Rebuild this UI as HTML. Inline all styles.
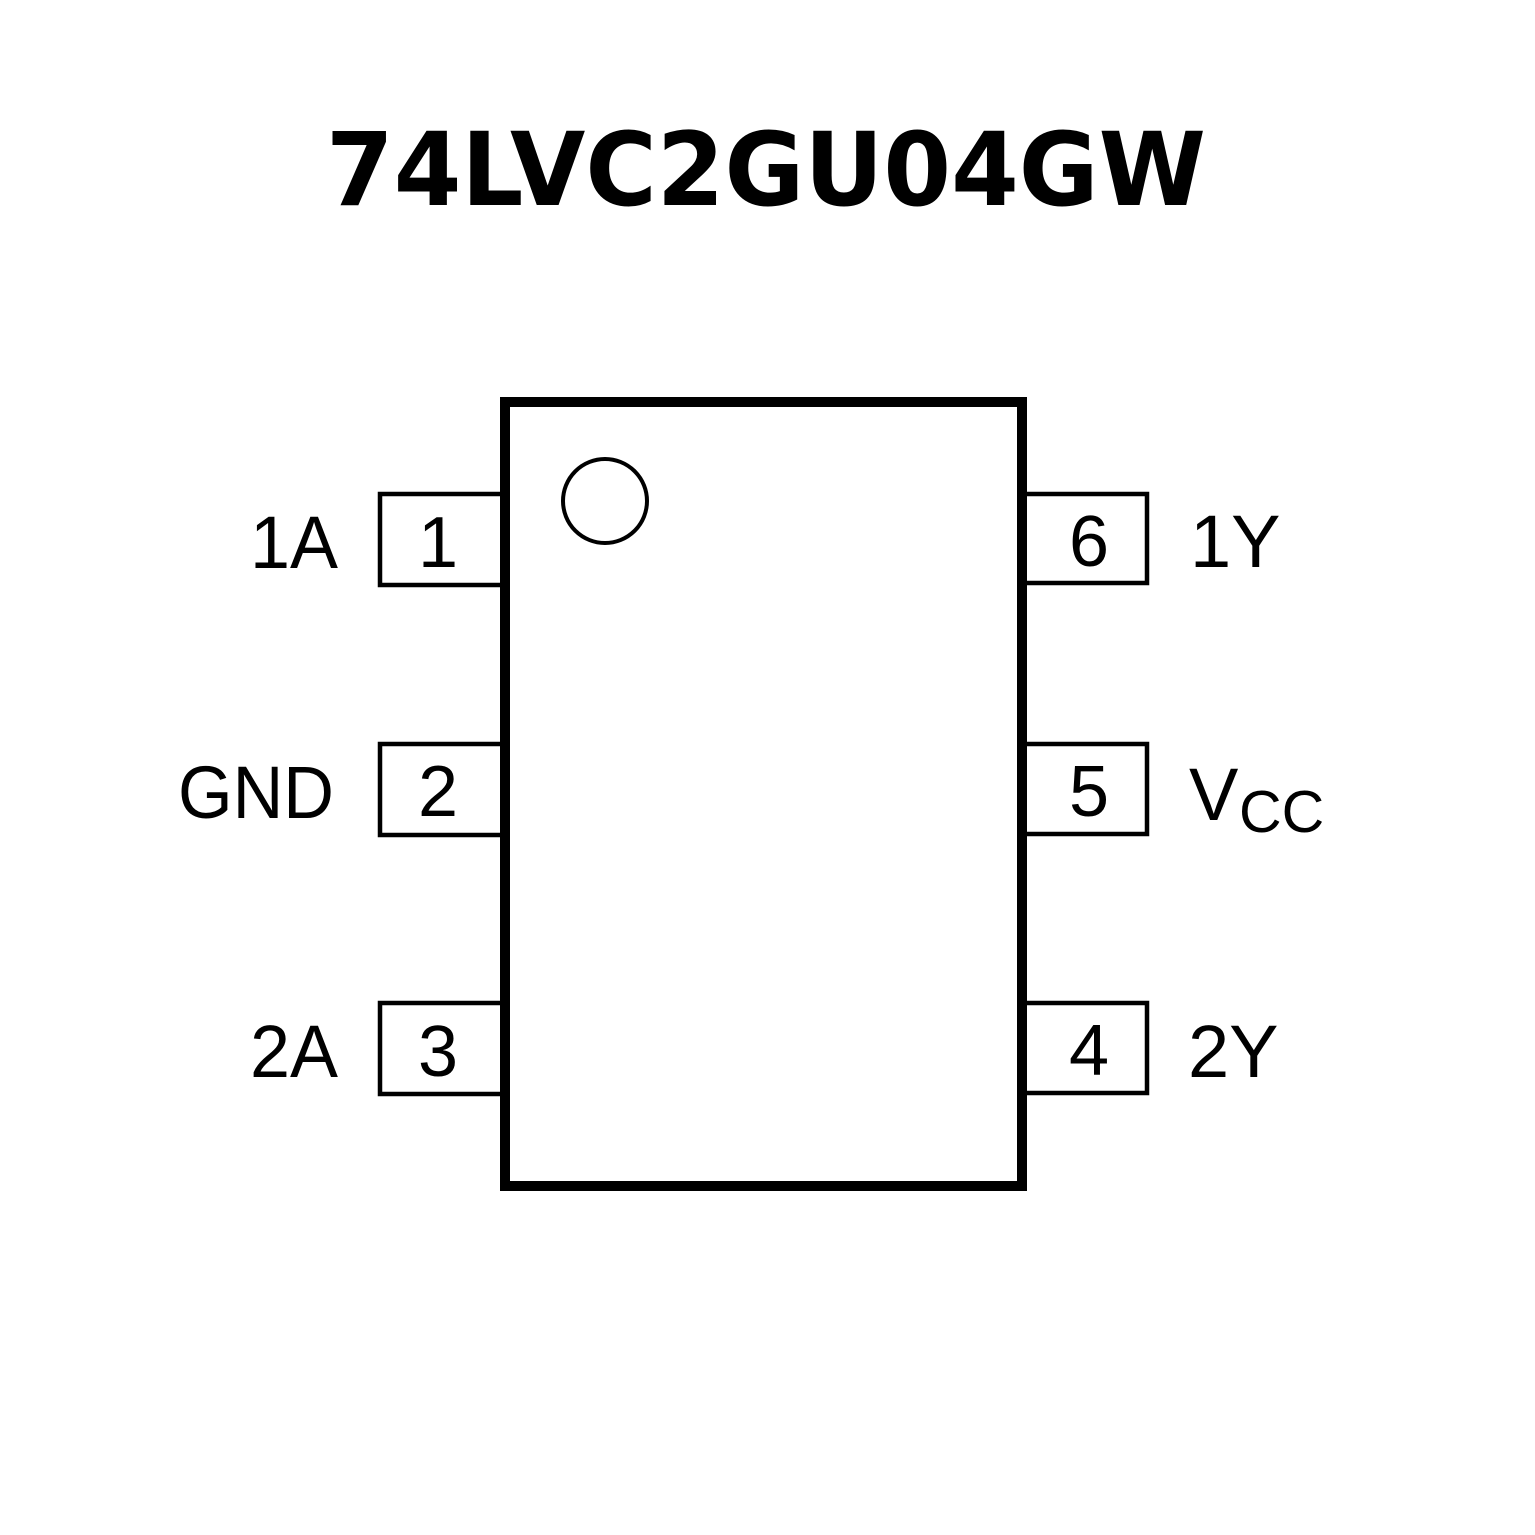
<!DOCTYPE html>
<html>
<head>
<meta charset="utf-8">
<style>
  html, body { margin: 0; padding: 0; background: #ffffff; }
  body { width: 1535px; height: 1535px; overflow: hidden; }
  svg { display: block; }
</style>
</head>
<body>
<svg width="1535" height="1535" viewBox="0 0 1535 1535" xmlns="http://www.w3.org/2000/svg">
  <rect x="0" y="0" width="1535" height="1535" fill="#ffffff"/>

  <!-- Title -->
  <text x="326" y="205" font-family="'DejaVu Sans', 'Liberation Sans', sans-serif" font-weight="bold" font-size="102" textLength="880" lengthAdjust="spacingAndGlyphs" fill="#000">74LVC2GU04GW</text>

  <!-- Pin boxes left -->
  <g fill="none" stroke="#000" stroke-width="4.5">
    <polyline points="500,494 380,494 380,585 500,585"/>
    <polyline points="500,744 380,744 380,835 500,835"/>
    <polyline points="500,1003 380,1003 380,1094 500,1094"/>
    <!-- right -->
    <polyline points="1027,494 1147,494 1147,583 1027,583"/>
    <polyline points="1027,744 1147,744 1147,834 1027,834"/>
    <polyline points="1027,1003 1147,1003 1147,1093 1027,1093"/>
  </g>

  <!-- Main body -->
  <rect x="505" y="402" width="517" height="784" fill="none" stroke="#000" stroke-width="10"/>

  <!-- Pin 1 marker -->
  <circle cx="605" cy="501" r="42" fill="none" stroke="#000" stroke-width="4"/>

  <!-- Pin numbers -->
  <g font-family="'Liberation Sans', Arial, sans-serif" font-size="72" fill="#000" text-anchor="middle">
    <text x="438" y="567">1</text>
    <text x="438" y="816">2</text>
    <text x="438" y="1076">3</text>
    <text x="1089" y="566">6</text>
    <text x="1089" y="816">5</text>
    <text x="1089" y="1075">4</text>
  </g>

  <!-- Pin labels -->
  <g font-family="'Liberation Sans', Arial, sans-serif" font-size="74" fill="#000">
    <text x="250" y="568" textLength="88" lengthAdjust="spacingAndGlyphs">1A</text>
    <text x="178" y="818" textLength="156" lengthAdjust="spacingAndGlyphs">GND</text>
    <text x="250" y="1077" textLength="88" lengthAdjust="spacingAndGlyphs">2A</text>
    <text x="1190" y="567">1Y</text>
    <text x="1189" y="820">V</text>
    <text x="1239" y="832" font-size="59">CC</text>
    <text x="1188" y="1077">2Y</text>
  </g>
</svg>
</body>
</html>
